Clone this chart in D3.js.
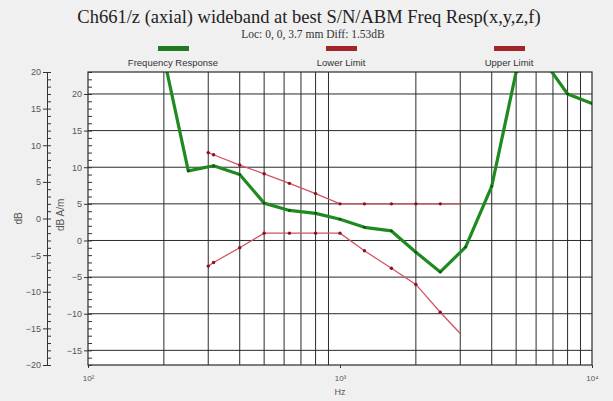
<!DOCTYPE html>
<html>
<head>
<meta charset="utf-8">
<script src="https://cdn.jsdelivr.net/npm/d3@7"></script>
<style>
  body { margin: 0; background: #f0f0f0; }
  svg { display: block; }
  .tick text { font-family: "Liberation Sans", Arial, sans-serif; fill: #555; }
  .axis path, .axis line { stroke: #333; }
</style>
</head>
<body>
<div id="chart"></div>
<script>
// Frequency response (1/3 octave points), dB A/m
const respFreqs = [200, 250, 315, 400, 500, 630, 800, 1000, 1250, 1600, 2000, 2500, 3150, 4000, 5000, 6300, 8000, 10000];
const respValues = [25, 9.5, 10.2, 9.0, 5.1, 4.1, 3.7, 2.9, 1.8, 1.3, -1.6, -4.3, -0.9, 7.4, 23, 25, 20.0, 18.7];

// Limit lines
const limitFreqs = [300, 315, 400, 500, 630, 800, 1000, 1250, 1600, 2000, 2500, 3000];
const lowerValues = [-3.5, -3.0, -1.0, 1.0, 1.0, 1.0, 1.0, -1.4, -3.8, -6.0, -9.8, -12.7];
const upperValues = [12, 11.7, 10.3, 9.1, 7.8, 6.4, 5, 5, 5, 5, 5, 5];

// Axes / legend text
const xTickValues = [100, 1000, 10000];
const xTickLabels = ["10\u00B2", "10\u00B3", "10\u2074"];
const innerTicks = [-15, -10, -5, 0, 5, 10, 15, 20];
const outerTicks = [-20, -15, -10, -5, 0, 5, 10, 15, 20];
const legendNames = ["Frequency Response", "Lower Limit", "Upper Limit"];
const legendColours = ["#217a21", "#a3232b", "#a3232b"];

const width = 613, height = 401;
const margin = { top: 72, right: 21, bottom: 36, left: 88 };
const innerW = width - margin.left - margin.right;
const innerH = height - margin.top - margin.bottom;

const svg = d3.select("#chart").append("svg")
  .attr("width", width)
  .attr("height", height);

// Title + subtitle
svg.append("text")
  .attr("x", 309).attr("y", 23)
  .attr("text-anchor", "middle")
  .style("font-family", "'Liberation Serif', 'Times New Roman', serif")
  .style("font-size", "18.5px").style("fill", "#222")
  .text("Ch661/z (axial) wideband at best S/N/ABM Freq Resp(x,y,z,f)");

svg.append("text")
  .attr("x", 313).attr("y", 38)
  .attr("text-anchor", "middle")
  .style("font-family", "'Liberation Serif', 'Times New Roman', serif")
  .style("font-size", "11.5px").style("fill", "#333")
  .text("Loc: 0, 0, 3.7 mm Diff: 1.53dB");

// Legend
const legendX = d3.scalePoint().domain(legendNames).range([173, 509]);
const legend = svg.selectAll(".legend").data(legendNames).join("g")
  .attr("class", "legend")
  .attr("transform", (d) => `translate(${legendX(d)},0)`);
legend.append("rect")
  .attr("x", -15).attr("y", 46).attr("width", 31).attr("height", 5)
  .attr("fill", (d, i) => legendColours[i]);
legend.append("text")
  .attr("y", 66).attr("text-anchor", "middle")
  .style("font-family", "'Liberation Sans', Arial, sans-serif")
  .style("font-size", "9.5px").style("fill", "#333")
  .text((d) => d);

// Scales
const x = d3.scaleLog().domain([100, 10000]).range([0, innerW]);
const yInner = d3.scaleLinear().domain([-17, 23]).range([innerH, 0]);
const yOuter = d3.scaleLinear().domain([-20, 20]).range([innerH, 0]);

const chart = svg.append("g")
  .attr("transform", `translate(${margin.left},${margin.top})`);

chart.append("rect")
  .attr("width", innerW).attr("height", innerH)
  .attr("fill", "#fff");

// Gridlines
const minorFreqs = d3.range(2, 10).map((k) => k * 100).concat(d3.range(2, 10).map((k) => k * 1000));
chart.append("g").selectAll("line").data(minorFreqs).join("line")
  .attr("x1", (d) => x(d)).attr("x2", (d) => x(d))
  .attr("y1", 0).attr("y2", innerH)
  .attr("stroke", "#2a2a2a").attr("stroke-width", 1);

chart.append("g").selectAll("line").data(innerTicks).join("line")
  .attr("x1", 0).attr("x2", innerW)
  .attr("y1", (d) => yInner(d)).attr("y2", (d) => yInner(d))
  .attr("stroke", "#2a2a2a").attr("stroke-width", 1);

chart.append("defs").append("clipPath").attr("id", "clip")
  .append("rect").attr("width", innerW).attr("height", innerH);

const plot = chart.append("g").attr("clip-path", "url(#clip)");

const line = (vals) => d3.line()
  .x((d) => x(d))
  .y((d, i) => yInner(vals[i]));

// Limit lines
[lowerValues, upperValues].forEach((vals) => {
  plot.append("path")
    .datum(limitFreqs)
    .attr("fill", "none")
    .attr("stroke", "#cf5563")
    .attr("stroke-width", 1.3)
    .attr("d", line(vals));
  plot.append("g").selectAll("circle").data(limitFreqs.slice(0, -1)).join("circle")
    .attr("cx", (d) => x(d))
    .attr("cy", (d, i) => yInner(vals[i]))
    .attr("r", 1.7)
    .attr("fill", "#8a1020");
});

// Frequency response
plot.append("path")
  .datum(respFreqs)
  .attr("fill", "none")
  .attr("stroke", "#1f8a1f")
  .attr("stroke-width", 3.2)
  .attr("stroke-linejoin", "round")
  .attr("d", line(respValues));
plot.append("g").selectAll("circle").data(respFreqs).join("circle")
  .attr("cx", (d) => x(d))
  .attr("cy", (d, i) => yInner(respValues[i]))
  .attr("r", 1.3)
  .attr("fill", "#0d4d0d");

// Plot border
chart.append("rect")
  .attr("width", innerW).attr("height", innerH)
  .attr("fill", "none").attr("stroke", "#2a2a2a").attr("stroke-width", 1.2);

// X axis
chart.append("g")
  .attr("class", "axis")
  .attr("transform", `translate(0,${innerH})`)
  .call(d3.axisBottom(x).tickValues(xTickValues).tickSize(3).tickPadding(7)
    .tickFormat((d, i) => xTickLabels[i]))
  .call((g) => g.select(".domain").remove())
  .call((g) => g.selectAll("text").style("font-size", "8px"));

chart.append("text")
  .attr("x", innerW / 2).attr("y", innerH + 30)
  .attr("text-anchor", "middle")
  .style("font-family", "'Liberation Sans', Arial, sans-serif")
  .style("font-size", "9px").style("fill", "#555")
  .text("Hz");

// Inner y axis (dB A/m): labelled major ticks outside, minor ticks inside
chart.append("g")
  .attr("class", "axis")
  .call(d3.axisLeft(yInner).tickValues(innerTicks).tickSize(4).tickPadding(2).tickSizeOuter(0))
  .call((g) => g.select(".domain").remove())
  .call((g) => g.selectAll("text").style("font-size", "9px"));
chart.append("g")
  .attr("class", "axis")
  .call(d3.axisRight(yInner).tickValues(d3.range(-17, 24)).tickSize(4).tickSizeOuter(0).tickFormat(""))
  .call((g) => g.select(".domain").remove());

chart.append("text")
  .attr("transform", `translate(-24,${yInner(3.5)}) rotate(-90)`)
  .attr("text-anchor", "middle")
  .style("font-family", "'Liberation Sans', Arial, sans-serif")
  .style("font-size", "10px").style("fill", "#555")
  .text("dB A/m");

// Outer y axis (dB)
const outer = svg.append("g")
  .attr("transform", `translate(47,${margin.top})`);
outer.append("g")
  .attr("class", "axis")
  .call(d3.axisLeft(yOuter).tickValues(outerTicks).tickSize(4).tickPadding(2).tickSizeOuter(0))
  .call((g) => g.selectAll("text").style("font-size", "9px"));
outer.append("g")
  .attr("class", "axis")
  .call(d3.axisRight(yOuter).tickValues(d3.range(-20, 21)).tickSize(4).tickSizeOuter(0).tickFormat(""))
  .call((g) => g.select(".domain").remove());

svg.append("text")
  .attr("transform", `translate(22,${margin.top + yOuter(0)}) rotate(-90)`)
  .attr("text-anchor", "middle")
  .style("font-family", "'Liberation Sans', Arial, sans-serif")
  .style("font-size", "10px").style("fill", "#555")
  .text("dB");
</script>
</body>
</html>
